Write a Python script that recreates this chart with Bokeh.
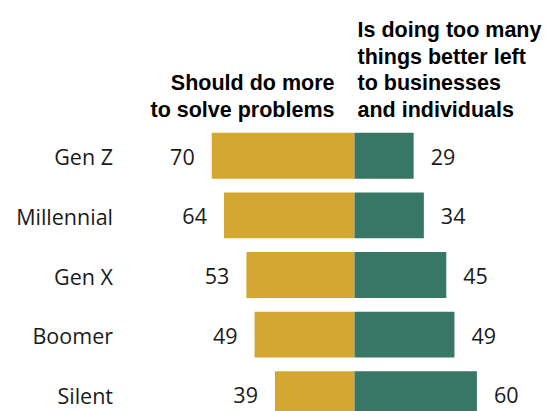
from bokeh.plotting import figure
from bokeh.models import ColumnDataSource, Range1d, Label
from bokeh.embed import file_html
from bokeh.resources import INLINE
from bokeh.core.properties import value

# ---- data ----
generations = ["Gen Z", "Millennial", "Gen X", "Boomer", "Silent"]
do_more = [70, 64, 53, 49, 39]
too_many = [29, 34, 45, 49, 60]
left_header = ["Should do more", "to solve problems"]
right_header = ["Is doing too many", "things better left", "to businesses", "and individuals"]

GOLD = "#D4A830"
GREEN = "#387766"
LABEL_FONT = "Open Sans"
HEAD_FONT = "Liberation Sans"

# page geometry helpers (px)
CX = 354.0      # page x of zero line
SX = 2.04       # px per percentage point
Y0 = 155.3      # page y of first bar centre
PITCH = 59.6    # px between bars

def dx(px):
    return (px - CX) / SX

def dy(py):
    return (len(generations) - 1) + (Y0 - py) / PITCH

W, H = 551, 411
p = figure(width=W, height=H, output_backend="svg", toolbar_location=None,
           x_range=Range1d(dx(0), dx(W)), y_range=Range1d(dy(H), dy(0)),
           min_border=0, x_axis_type=None, y_axis_type=None)
p.outline_line_color = None
p.grid.visible = False
p.background_fill_color = "white"
p.border_fill_color = "white"

n = len(generations)
ys = [n - 1 - i for i in range(n)]
src = ColumnDataSource(dict(
    y=ys,
    gen=generations,
    left=[-v for v in do_more],
    right=too_many,
    ltxt=[str(v) for v in do_more],
    rtxt=[str(v) for v in too_many],
    zero=[0] * n,
    labx=[dx(112.5)] * n,
))

p.hbar(y="y", left="left", right="zero", height=0.77, source=src,
       fill_color=GOLD, line_color=None)
p.hbar(y="y", left="zero", right="right", height=0.77, source=src,
       fill_color=GREEN, line_color=None)

common = dict(text_font=value(LABEL_FONT), text_font_size="21.5px",
              text_baseline="middle", text_color="#1a1a1a", source=src)
p.text(x="labx", y="y", text="gen", text_align="right", y_offset=1, **common)
p.text(x="left", y="y", text="ltxt", text_align="right", x_offset=-17, y_offset=1, **common)
p.text(x="right", y="y", text="rtxt", text_align="left", x_offset=17, y_offset=1, **common)

PITCH_H = 26.5
last_base = 109
for i, line in enumerate(left_header):
    base = last_base - (len(left_header) - 1 - i) * PITCH_H
    p.add_layout(Label(x=dx(334), y=dy(base), text=line, text_align="right",
                       text_baseline="alphabetic", text_font=HEAD_FONT,
                       text_font_style="bold", text_font_size="21.5px",
                       text_color="black"))
for i, line in enumerate(right_header):
    base = last_base - (len(right_header) - 1 - i) * PITCH_H
    p.add_layout(Label(x=dx(357), y=dy(base), text=line, text_align="left",
                       text_baseline="alphabetic", text_font=HEAD_FONT,
                       text_font_style="bold", text_font_size="21.5px",
                       text_color="black"))

open("out.html", "w").write(file_html(p, INLINE))
